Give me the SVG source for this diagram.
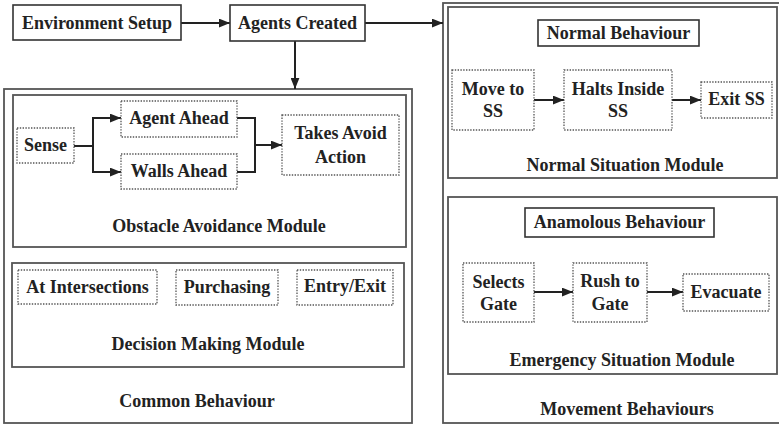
<svg xmlns="http://www.w3.org/2000/svg" width="779" height="427" viewBox="0 0 779 427">
  <defs>
    <marker id="arrow" viewBox="0 0 10 8" refX="10" refY="4" markerWidth="11" markerHeight="9" markerUnits="userSpaceOnUse" orient="auto">
      <path d="M0,0 L10,4 L0,8 Z" fill="#222"/>
    </marker>
    <style>
      text { font-family: "Liberation Serif", "Times New Roman", serif; font-weight: bold; font-size: 18px; fill: #222; text-anchor: middle; }
      .solid { fill: #fff; stroke: #333; stroke-width: 1.6; }
      .frame { fill: none; stroke: #555; stroke-width: 1.8; }
      .dotted { fill: #fff; stroke: #555; stroke-width: 1.3; stroke-dasharray: 1.4 1.4; }
      .link { fill: none; stroke: #222; stroke-width: 2; }
    </style>
  </defs>
  <rect width="779" height="427" fill="#fff"/>

  <!-- Containers -->
  <g id="common-behaviour">
    <rect class="frame" x="4" y="89" width="408" height="334"/>
    <text x="197" y="407">Common Behaviour</text>
  </g>
  <g id="obstacle-avoidance-module">
    <rect class="frame" x="13" y="95" width="393" height="152"/>
    <text x="219" y="232">Obstacle Avoidance Module</text>
  </g>
  <g id="decision-making-module">
    <rect class="frame" x="12" y="263" width="392" height="104"/>
    <text x="208" y="350">Decision Making Module</text>
  </g>
  <g id="movement-behaviours">
    <rect class="frame" x="443" y="3" width="345" height="420"/>
    <text x="627" y="415">Movement Behaviours</text>
  </g>
  <g id="normal-situation-module">
    <rect class="frame" x="448" y="7" width="329" height="171"/>
    <text x="625" y="171">Normal Situation Module</text>
  </g>
  <g id="emergency-situation-module">
    <rect class="frame" x="448" y="197" width="329" height="177"/>
    <text x="622" y="366">Emergency Situation Module</text>
  </g>

  <!-- Connectors -->
  <g id="connectors">
    <line class="link" x1="181" y1="23" x2="230" y2="23" marker-end="url(#arrow)"/>
    <line class="link" x1="365" y1="23" x2="443" y2="23" marker-end="url(#arrow)"/>
    <line class="link" x1="295" y1="41" x2="295" y2="89" marker-end="url(#arrow)"/>

    <line class="link" x1="74" y1="146" x2="93" y2="146"/>
    <line class="link" x1="93" y1="117" x2="93" y2="173"/>
    <line class="link" x1="92" y1="118" x2="121" y2="118" marker-end="url(#arrow)"/>
    <line class="link" x1="92" y1="172" x2="121" y2="172" marker-end="url(#arrow)"/>
    <line class="link" x1="237" y1="118" x2="256" y2="118"/>
    <line class="link" x1="237" y1="172" x2="256" y2="172"/>
    <line class="link" x1="255" y1="117" x2="255" y2="173"/>
    <line class="link" x1="255" y1="145" x2="282" y2="145" marker-end="url(#arrow)"/>

    <line class="link" x1="534" y1="100" x2="564" y2="100" marker-end="url(#arrow)"/>
    <line class="link" x1="672" y1="100" x2="701" y2="100" marker-end="url(#arrow)"/>

    <line class="link" x1="534" y1="292" x2="573" y2="292" marker-end="url(#arrow)"/>
    <line class="link" x1="647" y1="292" x2="683" y2="292" marker-end="url(#arrow)"/>
  </g>

  <!-- Top row -->
  <g id="environment-setup">
    <rect class="solid" x="13" y="5" width="168" height="35"/>
    <text x="97" y="29">Environment Setup</text>
  </g>
  <g id="agents-created">
    <rect class="solid" x="230" y="5" width="135" height="36"/>
    <text x="297.5" y="29">Agents Created</text>
  </g>

  <!-- Obstacle avoidance steps -->
  <g id="sense">
    <rect class="dotted" x="17" y="128" width="57" height="35"/>
    <text x="45.5" y="151">Sense</text>
  </g>
  <g id="agent-ahead">
    <rect class="dotted" x="121" y="101" width="116" height="36"/>
    <text x="179" y="124">Agent Ahead</text>
  </g>
  <g id="walls-ahead">
    <rect class="dotted" x="121" y="154" width="116" height="35"/>
    <text x="179" y="177">Walls Ahead</text>
  </g>
  <g id="takes-avoid-action">
    <rect class="dotted" x="282" y="115" width="117" height="60"/>
    <text x="340.5" y="139">Takes Avoid</text>
    <text x="340.5" y="163">Action</text>
  </g>

  <!-- Decision making cases -->
  <g id="at-intersections">
    <rect class="dotted" x="18" y="270" width="139" height="34"/>
    <text x="87.5" y="293">At Intersections</text>
  </g>
  <g id="purchasing">
    <rect class="dotted" x="176" y="270" width="102" height="35"/>
    <text x="227" y="293">Purchasing</text>
  </g>
  <g id="entry-exit">
    <rect class="dotted" x="297" y="270" width="96" height="35"/>
    <text x="345" y="292">Entry/Exit</text>
  </g>

  <!-- Normal situation -->
  <g id="normal-behaviour">
    <rect class="solid" x="538" y="20" width="161" height="26"/>
    <text x="618.5" y="39">Normal Behaviour</text>
  </g>
  <g id="move-to-ss">
    <rect class="dotted" x="452" y="70" width="82" height="60"/>
    <text x="493" y="95">Move to</text>
    <text x="493" y="117">SS</text>
  </g>
  <g id="halts-inside-ss">
    <rect class="dotted" x="564" y="70" width="108" height="60"/>
    <text x="618" y="95">Halts Inside</text>
    <text x="618" y="117">SS</text>
  </g>
  <g id="exit-ss">
    <rect class="dotted" x="701" y="82" width="71" height="36"/>
    <text x="736.5" y="105">Exit SS</text>
  </g>

  <!-- Emergency situation -->
  <g id="anamolous-behaviour">
    <rect class="solid" x="525" y="208" width="189" height="29"/>
    <text x="619.5" y="228">Anamolous Behaviour</text>
  </g>
  <g id="selects-gate">
    <rect class="dotted" x="463" y="263" width="71" height="59"/>
    <text x="498.5" y="288">Selects</text>
    <text x="498.5" y="310">Gate</text>
  </g>
  <g id="rush-to-gate">
    <rect class="dotted" x="573" y="263" width="74" height="59"/>
    <text x="610" y="287">Rush to</text>
    <text x="610" y="310">Gate</text>
  </g>
  <g id="evacuate">
    <rect class="dotted" x="683" y="274" width="86" height="37"/>
    <text x="726" y="298">Evacuate</text>
  </g>
</svg>
